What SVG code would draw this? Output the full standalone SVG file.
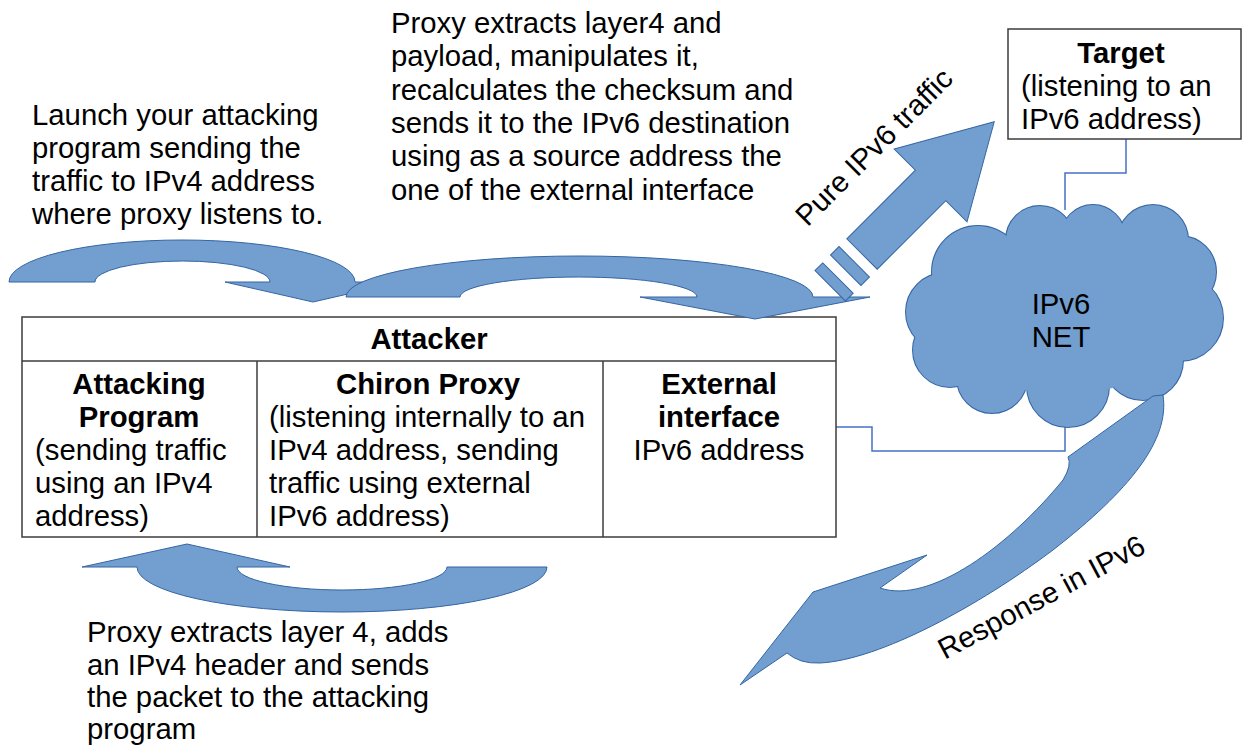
<svg xmlns="http://www.w3.org/2000/svg" width="1242" height="745" viewBox="0 0 1242 745">
<style>
.t{font-family:"Liberation Sans",Arial,sans-serif;font-size:29.3px;fill:#000}
.b{font-weight:bold}
.c{text-anchor:middle}
.arrow{fill:#729fcf;stroke:#3465a4;stroke-width:1}
.conn{fill:none;stroke:#4472c4;stroke-width:1.5}
.box{fill:#fff;stroke:#3c3c3c;stroke-width:1.5}
.line{fill:none;stroke:#3c3c3c;stroke-width:1.5}
.cs{fill:#729fcf;stroke:#3465a4;stroke-width:2}
.cf{fill:#729fcf;stroke:none}
</style>
<rect width="1242" height="745" fill="#fff"/>

<g id="connectors">
  <polyline class="conn" points="1126,139 1126,173 1065,173 1065,210"/>
  <polyline class="conn" points="836,427 872,427 872,451 1065,451 1065,422"/>
</g>

<g id="cloud">
  <g>
    <circle class="cs" cx="978" cy="272" r="46"/>
    <circle class="cs" cx="1040" cy="240" r="34"/>
    <circle class="cs" cx="1093" cy="237" r="32"/>
    <circle class="cs" cx="1153" cy="240" r="35"/>
    <circle class="cs" cx="1180" cy="272" r="36"/>
    <circle class="cs" cx="1180" cy="318" r="43"/>
    <circle class="cs" cx="1143" cy="360" r="40"/>
    <circle class="cs" cx="1068" cy="386" r="41"/>
    <circle class="cs" cx="992" cy="378" r="35"/>
    <circle class="cs" cx="950" cy="350" r="37"/>
    <circle class="cs" cx="945" cy="312" r="39"/>
  </g>
  <g>
    <circle class="cf" cx="978" cy="272" r="46"/>
    <circle class="cf" cx="1040" cy="240" r="34"/>
    <circle class="cf" cx="1093" cy="237" r="32"/>
    <circle class="cf" cx="1153" cy="240" r="35"/>
    <circle class="cf" cx="1180" cy="272" r="36"/>
    <circle class="cf" cx="1180" cy="318" r="43"/>
    <circle class="cf" cx="1143" cy="360" r="40"/>
    <circle class="cf" cx="1068" cy="386" r="41"/>
    <circle class="cf" cx="992" cy="378" r="35"/>
    <circle class="cf" cx="950" cy="350" r="37"/>
    <circle class="cf" cx="945" cy="312" r="39"/>
    <ellipse class="cf" cx="1065" cy="315" rx="115" ry="80"/>
  </g>
  <text class="t c" x="1061" y="314">IPv6</text>
  <text class="t c" x="1061" y="347">NET</text>
</g>

<g id="target">
  <rect class="box" x="1008" y="29" width="233" height="110"/>
  <text class="t b c" x="1121" y="63">Target</text>
  <text class="t" x="1021" y="96">(listening to an</text>
  <text class="t" x="1021" y="129">IPv6 address)</text>
</g>

<g id="attacker">
  <rect class="box" x="22" y="317" width="814" height="220"/>
  <line class="line" x1="22" y1="361" x2="836" y2="361"/>
  <line class="line" x1="257" y1="361" x2="257" y2="537"/>
  <line class="line" x1="603" y1="361" x2="603" y2="537"/>
  <text class="t b c" x="429" y="349">Attacker</text>
</g>

<g id="attacking-program">
  <text class="t b c" x="139" y="394">Attacking</text>
  <text class="t b c" x="139" y="427">Program</text>
  <text class="t" x="35" y="460">(sending traffic</text>
  <text class="t" x="35" y="493">using an IPv4</text>
  <text class="t" x="35" y="526">address)</text>
</g>

<g id="chiron-proxy">
  <text class="t b c" x="428" y="394">Chiron Proxy</text>
  <text class="t" x="269" y="427">(listening internally to an</text>
  <text class="t" x="269" y="460">IPv4 address, sending</text>
  <text class="t" x="269" y="493">traffic using external</text>
  <text class="t" x="269" y="526">IPv6 address)</text>
</g>

<g id="external-interface">
  <text class="t b c" x="719" y="394">External</text>
  <text class="t b c" x="719" y="427">interface</text>
  <text class="t c" x="719" y="460">IPv6 address</text>
</g>

<g id="arrows">
  <path id="arrow-launch" class="arrow" d="M9,282 A173,42 0 0 1 355,282 L400,282 L313,302 L225,282 L270,282 A87.5,21 0 0 0 95,282 Z"/>
  <path id="arrow-proxy" class="arrow" d="M346,297 A233.5,41 0 0 1 813,297 L870,297 L755,319 L640,297 L697,297 A118.5,20 0 0 0 460,297 Z"/>
  <path id="arrow-back" class="arrow" d="M547,567 A205,45 0 0 1 137,567 L82,567 L187,544 L290,567 L237,567 A105,23 0 0 0 447,567 Z"/>
  <g id="arrow-pure" transform="translate(862,254) rotate(-45)">
    <polygon class="arrow" points="0,-21.5 97,-21.5 97,-51.5 187,0 97,51.5 97,21.5 0,21.5"/>
    <rect class="arrow" x="-23" y="-21.5" width="12" height="43"/>
    <rect class="arrow" x="-45" y="-21.5" width="11" height="43"/>
  </g>
  <path id="arrow-response" class="arrow" d="M1163,395 C1170,440 1130,490 1053,550 C980,605 880,660 820,663 Q800,664 787,653 L740,685 L813,592 L927,555 L880,588 C930,605 1010,545 1063,480 Q1072,465 1068,457 L1153,396 Z"/>
</g>

<g id="labels">
  <text class="t" x="32" y="125">Launch your attacking</text>
  <text class="t" x="32" y="158">program sending the</text>
  <text class="t" x="32" y="191">traffic to IPv4 address</text>
  <text class="t" x="32" y="224">where proxy listens to.</text>

  <text class="t" x="391" y="33">Proxy extracts layer4 and</text>
  <text class="t" x="391" y="66.3">payload, manipulates it,</text>
  <text class="t" x="391" y="99.6">recalculates the checksum and</text>
  <text class="t" x="391" y="132.9">sends it to the IPv6 destination</text>
  <text class="t" x="391" y="166.2">using as a source address the</text>
  <text class="t" x="391" y="199.5">one of the external interface</text>

  <text class="t" x="87" y="642">Proxy extracts layer 4, adds</text>
  <text class="t" x="87" y="674.5">an IPv4 header and sends</text>
  <text class="t" x="87" y="707">the packet to the attacking</text>
  <text class="t" x="87" y="739">program</text>

  <text class="t c" transform="translate(881,154) rotate(-45)">Pure IPv6 traffic</text>
  <text class="t c" transform="translate(1046,606) rotate(-28)">Response in IPv6</text>
</g>
</svg>
